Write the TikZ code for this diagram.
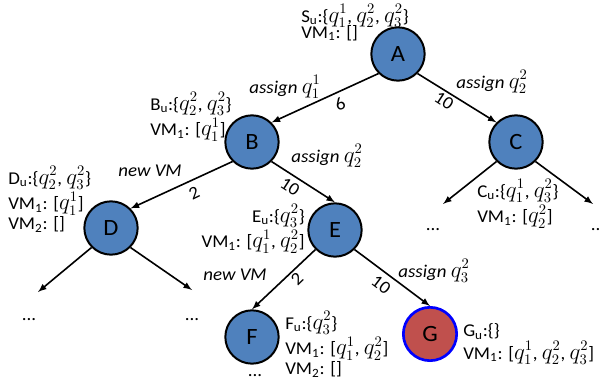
\documentclass[tikz,border=0pt]{standalone}
\usepackage{fontspec}
\setmainfont[FakeStretch=1.05]{Carlito}
\usetikzlibrary{positioning}
\definecolor{nodeblue}{RGB}{79,129,189}
\definecolor{nodered}{RGB}{192,80,77}
\newcommand{\treefont}{\fontsize{13.5}{15}\selectfont\setlength{\lineskip}{1.5pt}\setlength{\lineskiplimit}{0pt}}
\newcommand{\qv}[2]{{\fontsize{16}{15}\selectfont$q_{#1}^{#2}$}}
\begin{document}
\begin{tikzpicture}[x=0.75pt, y=-0.75pt, every node/.style={font=\treefont}]
    \tikzset{>=latex}
    \tikzset{state/.style={circle, draw, line width=1.5pt, fill=nodeblue, minimum size=40pt, inner sep=0pt, font=\fontsize{17.5}{18}\selectfont}}
    \tikzset{info/.style={inner sep=0pt, align=left}}
    \tikzset{edge/.style={->, line width=1.2pt}}
    \useasboundingbox (0,0) rectangle (600,381);
    \node[state] (A) at (398,54) {A};
    \node[state] (B) at (252,142) {B};
    \node[state] (C) at (516,142) {C};
    \node[state] (D) at (111,228) {D};
    \node[state] (E) at (335,230) {E};
    \node[state] (F) at (252,337) {F};
    \node[state, fill=nodered, draw=blue, line width=2pt] (G) at (430,334) {G};
    % open ends of the tree
    \coordinate (Dl) at (38,292);
    \coordinate (Dr) at (192,290);
    \coordinate (Cl) at (443,204);
    \coordinate (Cr) at (593,204);
    \node[anchor=base] (dotsDl) at (29,320) {...};
    \node[anchor=base] (dotsDr) at (192,320) {...};
    \node[anchor=base] (dotsCl) at (433,230) {...};
    \node[anchor=base] (dotsCr) at (598,230) {...};
    \node[anchor=base] (dotsF) at (255,376) {...};
    \draw[edge] (A.south west) -- (B.north east);
    \draw[edge] (A.south east) -- (C.north west);
    \draw[edge] (B.south west) -- (D.north east);
    \draw[edge] (B.south east) -- (E.north);
    \draw[edge] (E.south west) -- (F.north);
    \draw[edge] (E.south east) -- (G.north);
    \draw[edge] (D.south west) -- (Dl);
    \draw[edge] (D.south east) -- (Dr);
    \draw[edge] (C.south west) -- (Cl);
    \draw[edge] (C.south east) -- (Cr);
    % actions and costs
    \node (actAB) at (285,87) {\textit{assign} \qv{1}{1}};
    \node[rotate=24] (costAB) at (340,104) {6};
    \node (actAC) at (492,82) {\textit{assign} \qv{2}{2}};
    \node[rotate=-33] (costAC) at (444,101) {10};
    \node (actBD) at (150,171) {\textit{new VM}};
    \node[rotate=26] (costBD) at (194,193) {2};
    \node (actBE) at (327,156) {\textit{assign} \qv{2}{2}};
    \node[rotate=-33] (costBE) at (290,187) {10};
    \node (actEF) at (235,275) {\textit{new VM}};
    \node[rotate=44] (costEF) at (297,279) {2};
    \node (actEG) at (434,271) {\textit{assign} \qv{3}{2}};
    \node[rotate=-37] (costEG) at (381,285) {10};
    % state of each node
    \node[info, anchor=north west] (infoA) at (301,4) {S\textsubscript{u}:\{\qv{1}{1}, \qv{2}{2}, \qv{3}{2}\}\\[-3pt]VM\textsubscript{1}: []};
    \node[info, anchor=north west] (infoB) at (150,92) {B\textsubscript{u}:\{\qv{2}{2}, \qv{3}{2}\}\\VM\textsubscript{1}: [\qv{1}{1}]};
    \node[info, anchor=north west] (infoC) at (477,179) {C\textsubscript{u}:\{\qv{1}{1}, \qv{3}{2}\}\\VM\textsubscript{1}: [\qv{2}{2}]};
    \node[info, anchor=north west] (infoD) at (8,166) {D\textsubscript{u}:\{\qv{2}{2}, \qv{3}{2}\}\\VM\textsubscript{1}: [\qv{1}{1}]\\VM\textsubscript{2}: []};
    \node[info, anchor=north east, align=right] (infoE) at (305,204) {E\textsubscript{u}:\{\qv{3}{2}\}\\VM\textsubscript{1}: [\qv{1}{1}, \qv{2}{2}]};
    \node[info, anchor=north west] (infoF) at (285,311) {F\textsubscript{u}:\{\qv{3}{2}\}\\VM\textsubscript{1}: [\qv{1}{1}, \qv{2}{2}]\\VM\textsubscript{2}: []};
    \node[info, anchor=north west] (infoG) at (463,323) {G\textsubscript{u}:\{\}\\VM\textsubscript{1}: [\qv{1}{1}, \qv{2}{2}, \qv{3}{2}]};
\end{tikzpicture}
\end{document}
